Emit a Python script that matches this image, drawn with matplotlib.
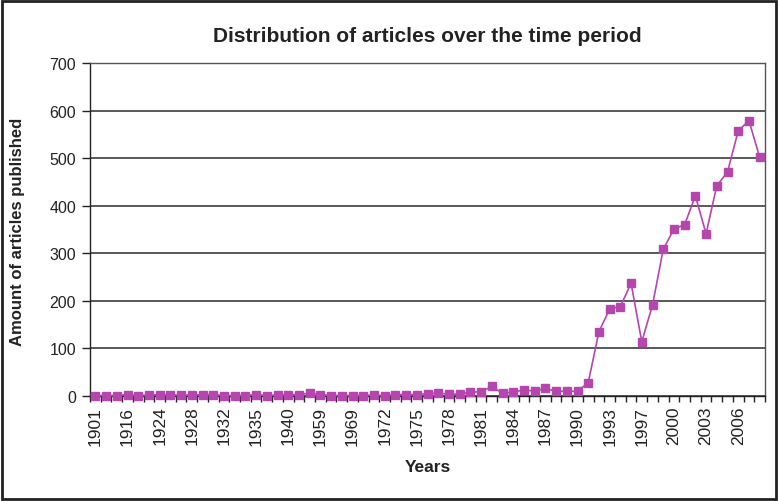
import numpy as np
import matplotlib
matplotlib.use('Agg')
import matplotlib.pyplot as plt
import matplotlib.patches as mpatches

plt.rcParams['font.family'] = ['Liberation Sans', 'DejaVu Sans']

# categories (years that have articles) and counts
years = [1901, 1907, 1912, 1916, 1920, 1922, 1924, 1925, 1926, 1928,
         1930, 1931, 1932, 1933, 1934, 1935, 1937, 1938, 1940, 1941,
         1950, 1959, 1963, 1966, 1969, 1970, 1971, 1972, 1973, 1974,
         1975, 1976, 1977, 1978, 1979, 1980, 1981, 1982, 1983, 1984,
         1985, 1986, 1987, 1988, 1989, 1990, 1991, 1992, 1993, 1995,
         1996, 1997, 1998, 1999, 2000, 2001, 2002, 2003, 2004, 2005,
         2006, 2007, 2008]
counts = [1, 1, 1, 3, 1, 2, 3, 2, 2, 2,
          3, 3, 1, 1, 1, 3, 1, 2, 3, 3,
          6, 3, 1, 1, 1, 1, 2, 1, 3, 3,
          3, 5, 6, 4, 4, 8, 9, 20, 6, 8,
          13, 10, 16, 10, 10, 10, 28, 135, 183, 188,
          237, 114, 191, 308, 351, 360, 421, 341, 442, 471,
          557, 579, 502]

line_col = '#B446AE'
grid_col = '#2b2b2b'

fig = plt.figure(figsize=(7.78, 5.02), dpi=100)
ax = fig.add_axes([90/778, 1-397/502, 675/778, 333/502])

x = np.arange(len(years))
ax.plot(x, counts, color=line_col, marker='s', markersize=5.5, linewidth=1.2,
        markeredgecolor=line_col, zorder=3, clip_on=False)

ax.set_xlim(-0.5, len(years) - 0.5)
ax.set_ylim(0, 700)
ax.set_yticks(range(0, 701, 100))
ax.yaxis.grid(True, color=grid_col, linewidth=1.1)
ax.set_axisbelow(True)

ax.set_xticks(x[::3])
ax.set_xticklabels([str(y) for y in years[::3]], rotation=90, fontsize=12.5)
ax.set_xticks(np.arange(-0.5, len(years)), minor=True)
ax.tick_params(axis='x', which='major', length=0, pad=7, colors='#222')
ax.tick_params(axis='x', which='minor', length=4, width=1, color='#222')
ax.tick_params(axis='y', which='major', length=6, width=1, pad=4, labelsize=11.5,
               colors='#222')

for s in ax.spines.values():
    s.set_color('#555555')
    s.set_linewidth(1.0)
ax.spines['left'].set_color('#222')
ax.spines['bottom'].set_color('#222')

fig.text(427/778, 1-36/502, 'Distribution of articles over the time period',
         ha='center', va='center', fontsize=15, fontweight='bold', color='#222')
fig.text(428/778, 1-468/502, 'Years', ha='center', va='center',
         fontsize=12.5, fontweight='bold', color='#222')
fig.text(18/778, 1-232/502, 'Amount of articles published', ha='center',
         va='center', rotation=90, fontsize=12, fontweight='bold', color='#222')

# outer frame
fig.patches.append(mpatches.Rectangle((0.002, 0.003), 0.996, 0.994,
                                      transform=fig.transFigure, fill=False,
                                      edgecolor='#222', linewidth=2))

fig.savefig('out.png', dpi=100)
